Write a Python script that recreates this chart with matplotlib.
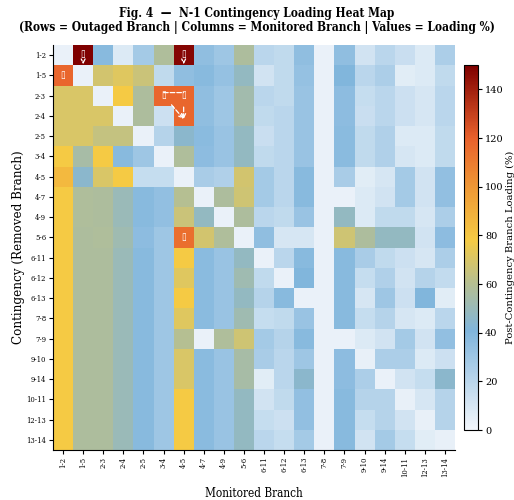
import numpy as np
import matplotlib
matplotlib.use("Agg")
import matplotlib.pyplot as plt
from matplotlib.colors import LinearSegmentedColormap

branches = ["1-2", "1-5", "2-3", "2-4", "2-5", "3-4", "4-5", "4-7", "4-9", "5-6",
            "6-11", "6-12", "6-13", "7-8", "7-9", "9-10", "9-14", "10-11", "12-13", "13-14"]

# loading (%) : rows = contingency (removed branch), cols = monitored branch
row_1_2   = [3, 150, 38, 8, 28, 58, 148, 35, 30, 57, 20, 18, 35, 3, 35, 12, 20, 15, 8, 25]
row_1_5   = [118, 3, 68, 72, 66, 18, 35, 38, 33, 48, 12, 18, 33, 3, 40, 20, 25, 6, 8, 18]
row_2_3   = [70, 70, 3, 78, 57, 118, 118, 35, 30, 53, 20, 18, 32, 3, 36, 16, 20, 14, 10, 20]
row_2_4   = [70, 70, 70, 3, 57, 14, 118, 35, 30, 53, 18, 20, 32, 3, 36, 15, 20, 14, 10, 20]
row_2_5   = [70, 70, 64, 64, 3, 22, 45, 37, 32, 48, 15, 20, 32, 3, 37, 18, 24, 8, 8, 18]
row_3_4   = [78, 55, 78, 38, 30, 3, 58, 36, 32, 48, 18, 20, 32, 3, 37, 18, 24, 10, 8, 18]
row_4_5   = [86, 45, 70, 78, 16, 16, 3, 26, 24, 68, 28, 20, 38, 3, 26, 6, 10, 28, 12, 34]
row_4_7   = [78, 58, 57, 50, 38, 34, 60, 3, 57, 67, 28, 20, 38, 3, 3, 8, 12, 28, 12, 34]
row_4_9   = [78, 58, 57, 50, 38, 34, 66, 48, 3, 57, 20, 18, 32, 3, 48, 8, 18, 18, 10, 25]
row_5_6   = [78, 57, 58, 52, 36, 30, 115, 68, 58, 3, 35, 10, 10, 3, 67, 57, 48, 48, 12, 36]
row_6_11  = [78, 57, 57, 50, 38, 30, 78, 37, 32, 48, 3, 20, 38, 3, 38, 26, 18, 14, 10, 25]
row_6_12  = [78, 57, 57, 50, 38, 30, 72, 37, 32, 52, 18, 3, 40, 3, 38, 16, 24, 12, 22, 17]
row_6_13  = [78, 57, 57, 50, 38, 30, 78, 37, 32, 48, 22, 38, 3, 3, 38, 10, 30, 14, 40, 6]
row_7_8   = [78, 57, 57, 50, 38, 30, 72, 37, 32, 52, 16, 18, 32, 3, 38, 16, 22, 10, 8, 20]
row_7_9   = [78, 57, 57, 50, 38, 30, 60, 3, 58, 67, 28, 22, 38, 3, 3, 8, 12, 28, 12, 34]
row_9_10  = [78, 57, 57, 50, 38, 30, 70, 37, 32, 55, 26, 20, 30, 3, 36, 4, 25, 25, 8, 14]
row_9_14  = [78, 57, 57, 50, 38, 30, 70, 37, 32, 55, 6, 20, 45, 3, 36, 25, 3, 12, 16, 45]
row_10_11 = [78, 57, 57, 50, 38, 30, 78, 37, 32, 48, 12, 18, 34, 3, 38, 22, 22, 4, 10, 22]
row_12_13 = [78, 57, 57, 50, 38, 30, 78, 37, 32, 48, 16, 14, 34, 3, 38, 16, 22, 12, 4, 22]
row_13_14 = [78, 57, 57, 50, 38, 30, 78, 37, 32, 48, 20, 16, 28, 3, 38, 12, 28, 16, 6, 4]

loading = np.array([row_1_2, row_1_5, row_2_3, row_2_4, row_2_5, row_3_4, row_4_5, row_4_7,
                    row_4_9, row_5_6, row_6_11, row_6_12, row_6_13, row_7_8, row_7_9,
                    row_9_10, row_9_14, row_10_11, row_12_13, row_13_14], dtype=float)

cmap = LinearSegmentedColormap.from_list(
    "load", [(0.0, "#f2f6fb"), (0.27, "#80b5dc"), (0.40, "#b5bf92"), (0.52, "#f5cb44"),
             (0.66, "#ef9a36"), (0.80, "#e8612c"), (1.0, "#7f0000")])

plt.rcParams["font.family"] = ["DejaVu Serif"]
plt.rcParams["font.stretch"] = "condensed"

fig = plt.figure(figsize=(5.14, 5.0), dpi=100)
ax = fig.add_axes([53/514, 50/500, 402/514, 405/500])
cax = fig.add_axes([464/514, 70/500, 14/514, 365/500])

n = len(branches)
mesh = ax.pcolormesh(np.arange(n + 1), np.arange(n + 1), loading, cmap=cmap,
                     vmin=0, vmax=150)
ax.set_xlim(0, n)
ax.set_ylim(n, 0)
ax.set_xticks(np.arange(n) + 0.5)
ax.set_yticks(np.arange(n) + 0.5)
ax.set_xticklabels(branches, rotation=90, fontsize=5.5)
ax.set_yticklabels(branches, fontsize=5.5)
ax.tick_params(length=3, width=0.8, pad=2)
for s in ["top", "right"]:
    ax.spines[s].set_visible(False)
ax.set_xlabel("Monitored Branch", fontsize=8.5, labelpad=7)
ax.set_ylabel("Contingency (Removed Branch)", fontsize=9.5, labelpad=1)

# overload markers
ann = dict(color="white", fontsize=7, ha="center", va="center")
arr = dict(arrowstyle="->", color="white", linestyle="--", lw=0.9, shrinkA=3, shrinkB=0)
for (r, c) in [(0, 1), (0, 6)]:
    ax.annotate("▯", xy=(c + 0.5, r + 0.95), xytext=(c + 0.5, r + 0.45), arrowprops=arr, **ann)
ax.text(0.5, 1.5, "▯", **ann)
ax.text(6.5, 9.5, "▯", **ann)
ax.annotate("▯", xy=(6.5, 3.65), xytext=(5.5, 2.5), arrowprops=arr, **ann)
ax.annotate("▯", xy=(6.5, 3.65), xytext=(6.5, 2.5), arrowprops=arr, **ann)
ax.annotate("", xy=(6.5, 2.35), xytext=(5.5, 2.35),
            arrowprops=dict(arrowstyle="-", color="white", linestyle="--", lw=0.9,
                            shrinkA=0, shrinkB=0))

cb = fig.colorbar(mesh, cax=cax, ticks=np.arange(0, 141, 20))
cb.ax.tick_params(labelsize=7, length=3, pad=2)
for t in cb.ax.get_yticklabels():
    t.set_fontstretch("normal")
cb.outline.set_linewidth(0.8)
cb.set_label("Post-Contingency Branch Loading (%)", fontsize=7.2, labelpad=2,
             fontstretch="normal")

fig.suptitle("Fig. 4  —  N-1 Contingency Loading Heat Map\n"
             "(Rows = Outaged Branch | Columns = Monitored Branch | Values = Loading %)",
             fontsize=8.6, fontweight="bold", y=0.985, linespacing=1.1)

fig.savefig("out.png", dpi=100)
